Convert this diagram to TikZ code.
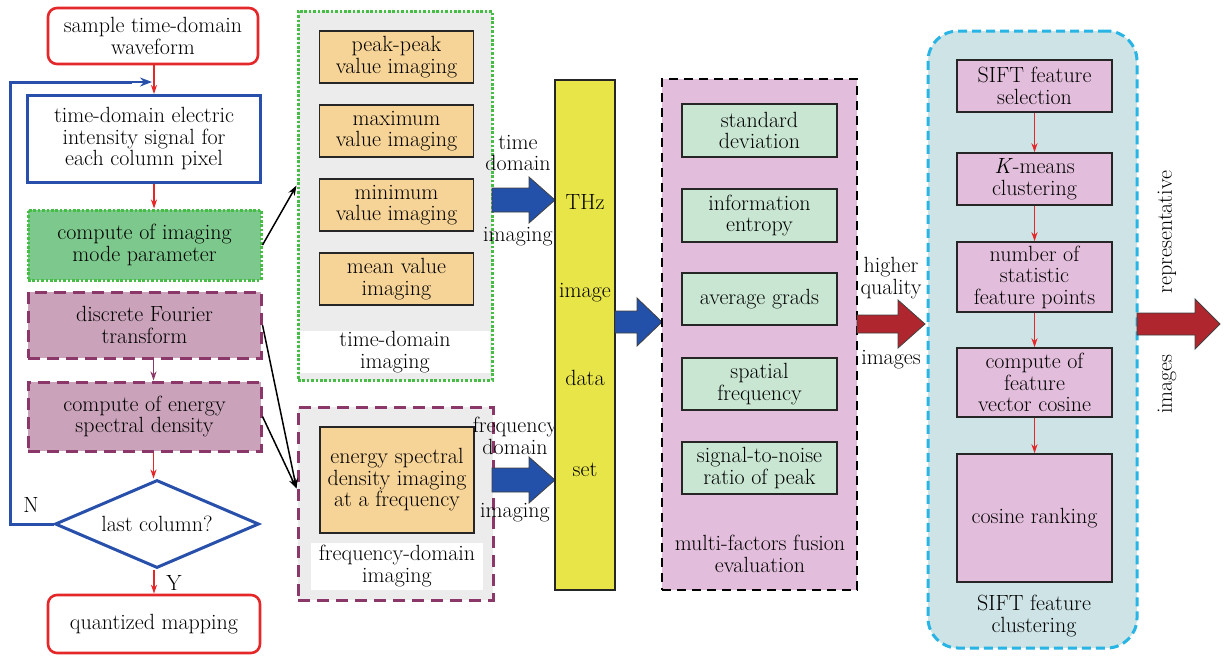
\documentclass[tikz,border=0pt]{standalone}
\usepackage{fontspec}
\setmainfont{Latin Modern Roman}
\usetikzlibrary{shapes.geometric,arrows.meta,calc}
\definecolor{cred}{RGB}{228,40,42}
\definecolor{cblue}{RGB}{40,80,170}
\definecolor{cgreenline}{RGB}{70,190,70}
\definecolor{cgreenfill}{RGB}{125,200,140}
\definecolor{cmaroon}{RGB}{140,55,105}
\definecolor{cmauve}{RGB}{202,163,186}
\definecolor{cgray}{RGB}{236,236,236}
\definecolor{corange}{RGB}{246,211,150}
\definecolor{cyellow}{RGB}{232,229,72}
\definecolor{cpink}{RGB}{227,190,220}
\definecolor{cmint}{RGB}{200,230,210}
\definecolor{ccyan}{RGB}{40,180,228}
\definecolor{clblue}{RGB}{205,227,230}
\definecolor{cdred}{RGB}{176,38,46}
\definecolor{cbblue}{RGB}{35,80,168}
\tikzset{
  base/.style={align=center, inner sep=0pt, font=\fontsize{22}{21.5}\selectfont},
  term/.style={base, draw=cred, line width=2.6pt, rounded corners=9pt, fill=white},
  bluebox/.style={base, draw=cblue, line width=3pt, fill=white},
  greenbox/.style={base, draw=cgreenline, line width=3pt, dash pattern=on 2.6pt off 1.8pt, fill=cgreenfill},
  mauvebox/.style={base, draw=cmaroon, line width=3pt, dash pattern=on 12pt off 7pt, fill=cmauve},
  orangebox/.style={base, draw=black!85, line width=1.5pt, fill=corange},
  mintbox/.style={base, draw=black!85, line width=1.5pt, fill=cmint},
  pinkbox/.style={base, draw=black!85, line width=1.5pt, fill=cpink},
  lbl/.style={base},
  redarr/.style={draw=cred, line width=1.3pt, -{Stealth[length=9pt,width=6pt]}},
  blackarr/.style={draw=black, line width=1.5pt, -{Stealth[length=10pt,width=7pt]}},
  blockarr/.style={draw=black!75, line width=0.8pt},
}
\newcommand{\blockarrow}[7]{%
  \draw[blockarr, fill=#7] (#1,{#4-#5}) -- (#3,{#4-#5}) -- (#3,{#4-#6}) -- (#2,#4) -- (#3,{#4+#6}) -- (#3,{#4+#5}) -- (#1,{#4+#5}) -- cycle;}
\begin{document}
\begin{tikzpicture}[x=1pt,y=-1pt]
\useasboundingbox (0,0) rectangle (1230,657);

% ---------------- left column ----------------
\node[term, minimum width=210pt, minimum height=56pt] (s1) at (153,36) {sample time-domain\\waveform};
\node[bluebox, minimum width=233pt, minimum height=87pt] (s2) at (144,139) {time-domain electric\\intensity signal for\\each column pixel};
\node[greenbox, minimum width=233pt, minimum height=70pt] (s3) at (144.5,245) {compute of imaging\\mode parameter};
\node[mauvebox, minimum width=233pt, minimum height=66pt] (s4) at (144.5,325) {discrete Fourier\\transform};
\node[mauvebox, minimum width=233pt, minimum height=69pt] (s5) at (144.5,416.5) {compute of energy\\spectral density};
\node[base, diamond, draw=cblue, line width=3pt, fill=white, aspect=2.3, minimum width=204pt, minimum height=88pt] (s6) at (157,524) {last column?};
\node[term, minimum width=212pt, minimum height=58pt] (s7) at (154,624) {quantized mapping};

\coordinate (fbcorner) at (10,82);
\coordinate (fbend) at (152,82);
\draw[redarr] (s1.south) ++(1,0) coordinate (a1) -- (a1 |- s2.north);
\draw[redarr] ($(s2.south)+(10,0)$) coordinate (a2) -- (a2 |- s3.north);
\draw[draw=cmaroon, line width=1.3pt, -{Stealth[length=9pt,width=6pt]}] ($(s4.south)+(9,0)$) coordinate (a3) -- (a3 |- s5.north);
\draw[redarr] ($(s5.south)+(9,0)$) coordinate (a4) -- (a4 |- s6.north);
\draw[redarr] ($(s6.south)+(-3,0)$) coordinate (a5) -- (a5 |- s7.north);
\draw[draw=cblue, line width=3pt] (s6.west) -| (fbcorner) -- ($(fbend)+(-20,0)$);
\draw[draw=cblue, line width=1.6pt, -{Stealth[length=12pt,width=9pt]}] ($(fbend)+(-22,0)$) -- (fbend);
\node[lbl, anchor=center] (nN) at (31,505) {N};
\node[lbl, anchor=center] (nY) at (174,583) {Y};

% ---------------- time-domain group ----------------
\node[draw=cgreenline, line width=3pt, dash pattern=on 2.6pt off 1.8pt, fill=cgray, minimum width=194pt, minimum height=369pt, inner sep=0pt] (tg) at (395,195.5) {};
\node[lbl, fill=white, minimum width=190pt, minimum height=36pt] (tgl) at (395,352) {time-domain\\imaging};
\node[orangebox, minimum width=154pt, minimum height=52pt] (o1) at (396.5,57) {peak-peak\\value imaging};
\node[orangebox, minimum width=154pt, minimum height=52pt] (o2) at (396.5,131) {maximum\\value imaging};
\node[orangebox, minimum width=154pt, minimum height=52pt] (o3) at (396.5,205) {minimum\\value imaging};
\node[orangebox, minimum width=154pt, minimum height=52pt] (o4) at (396.5,279) {mean value\\imaging};

% ---------------- frequency-domain group ----------------
\node[draw=cmaroon, line width=3pt, dash pattern=on 12pt off 7pt, fill=cgray, minimum width=195pt, minimum height=193pt, inner sep=0pt] (fg) at (395.5,503.5) {};
\node[lbl, fill=white, minimum width=172pt, minimum height=47pt] (fgl) at (397,566) {frequency-domain\\imaging};
\node[orangebox, minimum width=154pt, minimum height=106pt] (o5) at (397,480) {energy spectral\\density imaging\\at a frequency};

\draw[blackarr] (s3.east) -- ($(tg.west)+(0,-10)$);
\draw[blackarr] (s4.east) -- ($(fg.west)+(0,-15)$);
\draw[blackarr] (s5.east) -- ($(fg.west)+(0,-15)$);

% ---------------- block arrows into data set ----------------
\blockarrow{492}{555}{529}{200}{12}{23}{cbblue}
\blockarrow{492}{555}{529}{480}{12}{23}{cbblue}
\node[lbl] (tdl) at (518,153) {time\\domain};
\node[lbl] (tdl2) at (518,237) {imaging};
\node[lbl] (fdl) at (515,436) {frequency\\domain};
\node[lbl] (fdl2) at (515,513) {imaging};

% ---------------- THz image data set ----------------
\node[base, draw=black!85, line width=1.5pt, fill=cyellow, minimum width=60pt, minimum height=510pt] (ds) at (585,335) {};
\node[lbl] (dst1) at (585,202) {THz};
\node[lbl] (dst2) at (585,293) {image};
\node[lbl] (dst3) at (585,378) {data};
\node[lbl] (dst4) at (585,470) {set};

\blockarrow{615}{662}{637}{322}{11}{24}{cbblue}

% ---------------- multi-factors fusion evaluation ----------------
\node[draw=black, line width=2.5pt, dash pattern=on 9pt off 6pt, fill=cpink, minimum width=195pt, minimum height=511pt, inner sep=0pt] (pg) at (759.5,334.5) {};
\node[lbl] (pgl) at (760,554) {multi-factors fusion\\evaluation};
\node[mintbox, minimum width=155pt, minimum height=53pt] (m1) at (759.5,130.5) {standard\\deviation};
\node[mintbox, minimum width=155pt, minimum height=53pt] (m2) at (759.5,215.5) {information\\entropy};
\node[mintbox, minimum width=155pt, minimum height=52pt] (m3) at (759.5,299) {average grads};
\node[mintbox, minimum width=155pt, minimum height=52pt] (m4) at (759.5,384) {spatial\\frequency};
\node[mintbox, minimum width=155pt, minimum height=52pt] (m5) at (759.5,468) {signal-to-noise\\ratio of peak};

\blockarrow{857}{925}{898}{324}{9}{24}{cdred}
\node[lbl] (hq) at (891,278) {higher\\quality};
\node[lbl] (hq2) at (891,360) {images};

% ---------------- SIFT feature clustering ----------------
\node[draw=ccyan, line width=3pt, dash pattern=on 9pt off 5pt, fill=clblue, rounded corners=30pt, minimum width=209pt, minimum height=617pt, inner sep=0pt] (sg) at (1032.5,339.5) {};
\node[lbl] (sgl) at (1034,616) {SIFT feature\\clustering};
\node[pinkbox, minimum width=155pt, minimum height=52pt] (p1) at (1034.5,86) {SIFT feature\\selection};
\node[pinkbox, minimum width=155pt, minimum height=52pt] (p2) at (1034.5,179) {\textit{K}-means\\clustering};
\node[pinkbox, minimum width=155pt, minimum height=70pt] (p3) at (1034.5,277) {number of\\statistic\\feature points};
\node[pinkbox, minimum width=155pt, minimum height=69pt] (p4) at (1034.5,382.5) {compute of\\feature\\vector cosine};
\node[pinkbox, minimum width=155pt, minimum height=128pt] (p5) at (1034.5,518) {cosine ranking};
\draw[redarr] (p1.south) -- (p2.north);
\draw[redarr] (p2.south) -- (p3.north);
\draw[redarr] (p3.south) -- (p4.north);
\draw[redarr] (p4.south) -- (p5.north);

\blockarrow{1137}{1220}{1195}{324}{11}{25}{cdred}
\node[lbl, rotate=90] (rep) at (1167,232) {representative};
\node[lbl, rotate=90] (rep2) at (1167,384) {images};
\end{tikzpicture}
\end{document}
